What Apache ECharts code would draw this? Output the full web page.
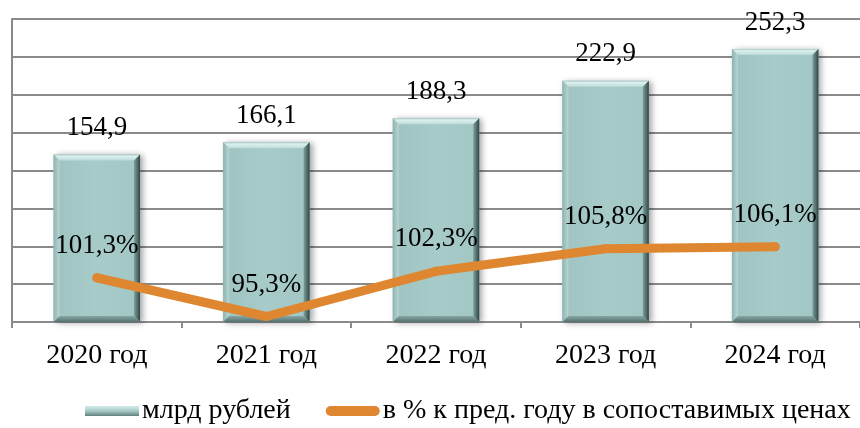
<!DOCTYPE html>
<html>
<head>
<meta charset="utf-8">
<script src="https://cdn.jsdelivr.net/npm/echarts@6/dist/echarts.min.js"></script>
<style>html,body{margin:0;padding:0;background:#fff}#c{width:860px;height:428px}</style>
</head>
<body>
<div id="c"></div>
<script>
const categories = ['2020 год', '2021 год', '2022 год', '2023 год', '2024 год'];
const rubValues = [154.9, 166.1, 188.3, 222.9, 252.3];
const pctValues = [101.3, 95.3, 102.3, 105.8, 106.1];
const seriesNames = ['млрд рублей', 'в % к пред. году в сопоставимых ценах'];

const FONT = "'Liberation Serif','Times New Roman',serif";
const fmt = v => v.toFixed(1).replace('.', ',');
const BW = 0.51;

const chart = echarts.init(document.getElementById('c'), null, {renderer: 'canvas'});

function bevel(params, api) {
  const i = api.value(0);
  const v = api.value(1);
  const top = api.coord([i, v]);
  const bot = api.coord([i, 0]);
  const w = api.size([1, 0])[0] * BW;
  const x0 = top[0] - w / 2, x1 = top[0] + w / 2;
  const y0 = top[1], y1 = bot[1];
  const b = 6;
  return {
    type: 'group',
    children: [
      {type: 'polygon', shape: {points: [[x0, y0], [x1, y0], [x1 - b, y0 + b], [x0 + b, y0 + b]]},
        style: {fill: new echarts.graphic.LinearGradient(0, 0, 0, 1, [{offset: 0, color: '#a9c9c7'}, {offset: 0.3, color: '#dcf1ef'}, {offset: 1, color: '#bcdbd9'}])}},
      {type: 'polygon', shape: {points: [[x0, y0], [x0 + b, y0 + b], [x0 + b, y1 - b], [x0, y1]]},
        style: {fill: new echarts.graphic.LinearGradient(0, 0, 1, 0, [{offset: 0, color: '#8fb2b0'}, {offset: 1, color: '#b7d6d4'}])}},
      {type: 'polygon', shape: {points: [[x1, y0], [x1, y1], [x1 - b, y1 - b], [x1 - b, y0 + b]]},
        style: {fill: new echarts.graphic.LinearGradient(0, 0, 1, 0, [{offset: 0, color: '#7e9f9d'}, {offset: 1, color: '#2e4746'}])}},
      {type: 'polygon', shape: {points: [[x0, y1], [x1, y1], [x1 - b, y1 - b], [x0 + b, y1 - b]]},
        style: {fill: new echarts.graphic.LinearGradient(0, 0, 0, 1, [{offset: 0, color: '#86a7a5'}, {offset: 1, color: '#56716f'}])}}
    ]
  };
}

chart.setOption({
  animation: false,
  backgroundColor: '#fff',
  textStyle: {fontFamily: FONT},
  grid: {left: 12, right: 0, top: 19, bottom: 106, containLabel: false},
  legend: {
    left: 85, top: 397, padding: 0,
    itemWidth: 54, itemHeight: 10, itemGap: 35,
    textStyle: {fontFamily: FONT, fontSize: 28, color: '#000', padding: [0, 0, 0, -2]},
    data: [
      {name: seriesNames[0], icon: 'rect',
        itemStyle: {color: new echarts.graphic.LinearGradient(0, 0, 0, 1, [{offset: 0, color: '#d3ebe9'}, {offset: 0.5, color: '#a6cac8'}, {offset: 1, color: '#5f7f7d'}])}},
      {name: seriesNames[1], icon: 'path://M5,0 H49 A5,5 0 0 1 49,10 H5 A5,5 0 0 1 5,0 Z'}
    ]
  },
  xAxis: {
    type: 'category',
    data: categories,
    axisLine: {show: true, lineStyle: {color: '#8a8a8a', width: 2}},
    axisTick: {show: true, length: 6, lineStyle: {color: '#8a8a8a', width: 2}},
    axisLabel: {fontFamily: FONT, fontSize: 28, color: '#000', margin: 20}
  },
  yAxis: [
    {type: 'value', min: 0, max: 280, interval: 35,
      axisLine: {show: true, lineStyle: {color: '#8a8a8a', width: 2}},
      axisTick: {show: false}, axisLabel: {show: false},
      splitLine: {show: true, lineStyle: {color: '#8a8a8a', width: 2}}},
    {type: 'value', min: 94.45, max: 141.35, show: false, splitLine: {show: false}}
  ],
  series: [
    {
      name: seriesNames[0], type: 'bar', data: rubValues, barWidth: (BW * 100) + '%', z: 1,
      itemStyle: {
        color: new echarts.graphic.LinearGradient(0, 0, 1, 0, [{offset: 0, color: '#9fc3c1'}, {offset: 0.5, color: '#a7cbc9'}, {offset: 1, color: '#a2c6c4'}]),
        shadowColor: 'rgba(0,0,0,0.35)', shadowBlur: 6, shadowOffsetX: 3, shadowOffsetY: 1
      },
      label: {show: true, position: 'top', distance: 13, fontFamily: FONT, fontSize: 27, color: '#000',
        formatter: p => fmt(p.value)}
    },
    {
      name: 'bevel', type: 'custom', silent: true, z: 2,
      data: rubValues.map((v, i) => [i, v]),
      encode: {x: 0, y: 1},
      renderItem: bevel
    },
    {
      name: seriesNames[1], type: 'line', yAxisIndex: 1, data: pctValues, z: 3,
      symbol: 'circle', symbolSize: 9,
      lineStyle: {color: '#de8730', width: 9, cap: 'round', join: 'round'},
      itemStyle: {color: '#de8730'},
      label: {show: true, position: 'top', distance: 14, fontFamily: FONT, fontSize: 27, color: '#000',
        formatter: p => fmt(p.value) + '%'}
    }
  ]
});
</script>
</body>
</html>
